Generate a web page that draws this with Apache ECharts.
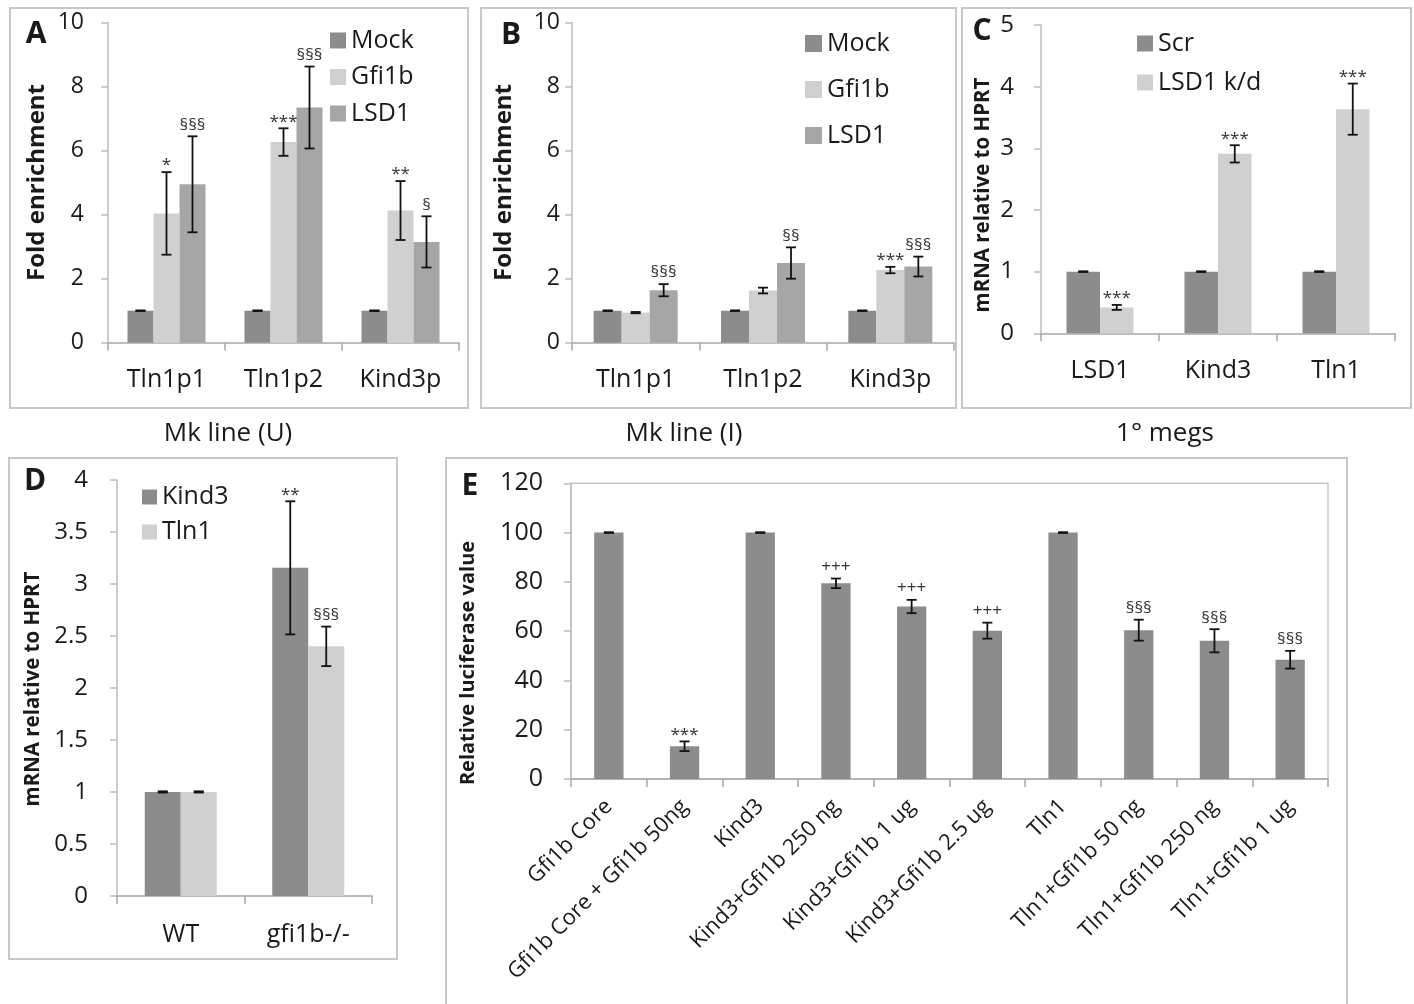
<!DOCTYPE html>
<html><head><meta charset="utf-8">
<script src="https://cdn.jsdelivr.net/npm/echarts@6/dist/echarts.min.js"></script>
<style>html,body{margin:0;padding:0;background:#fff}#c{width:1414px;height:1004px}</style>
</head><body><div id="c"></div>
<script>
// ---------- Panel A : Mk line (U) ----------
const catsA = ['Tln1p1', 'Tln1p2', 'Kind3p'];
const aMock = [1, 1, 1];
const aMockErr = [0.01, 0.01, 0.01];
const aGfi = [4.04, 6.27, 4.13];
const aGfiErr = [1.29, 0.43, 0.92];
const aGfiSig = ['*', '***', '**'];
const aLsd = [4.95, 7.35, 3.15];
const aLsdErr = [1.5, 1.28, 0.8];
const aLsdSig = ['§§§', '§§§', '§'];
// ---------- Panel B : Mk line (I) ----------
const catsB = ['Tln1p1', 'Tln1p2', 'Kind3p'];
const bMock = [1, 1, 1];
const bMockErr = [0.01, 0.01, 0.01];
const bGfi = [0.94, 1.63, 2.27];
const bGfiErr = [0.02, 0.09, 0.1];
const bGfiSig = ['', '', '***'];
const bLsd = [1.64, 2.49, 2.38];
const bLsdErr = [0.19, 0.49, 0.31];
const bLsdSig = ['§§§', '§§', '§§§'];
// ---------- Panel C : 1° megs ----------
const catsC = ['LSD1', 'Kind3', 'Tln1'];
const cScr = [1, 1, 1];
const cScrErr = [0.006, 0.006, 0.006];
const cKd = [0.42, 2.91, 3.635];
const cKdErr = [0.04, 0.14, 0.415];
const cKdSig = ['***', '***', '***'];
// ---------- Panel D ----------
const catsD = ['WT', 'gfi1b-/-'];
const dKind3 = [1, 3.155];
const dKind3Err = [0.006, 0.64];
const dKind3Sig = ['', '**'];
const dTln1 = [1, 2.4];
const dTln1Err = [0.006, 0.19];
const dTln1Sig = ['', '§§§'];
// ---------- Panel E ----------
const catsE = ['Gfi1b Core', 'Gfi1b Core + Gfi1b 50ng', 'Kind3', 'Kind3+Gfi1b 250 ng', 'Kind3+Gfi1b 1 ug',
  'Kind3+Gfi1b 2.5 ug', 'Tln1', 'Tln1+Gfi1b 50 ng', 'Tln1+Gfi1b 250 ng', 'Tln1+Gfi1b 1 ug'];
const eVal = [100, 13.3, 100, 79.4, 70, 60.2, 100, 60.4, 56.1, 48.4];
const eErr = [0.15, 1.95, 0.15, 1.95, 2.7, 3.25, 0.15, 4.25, 4.7, 3.6];
const eSig = ['', '***', '', '+++', '+++', '+++', '', '§§§', '§§§', '§§§'];

const DARK = '#8c8c8c', LIGHT = '#d0d0d0', MID = '#a6a6a6';
const FONT = '"Open Sans"';
const TXT = '#1a1a1a';
const AX = '#a8a8a8';

function xAx(gi, data, fs, margin, rotate) {
  return {
    type: 'category', gridIndex: gi, data: data,
    axisLine: { show: true, lineStyle: { color: AX, width: 1.5 } },
    axisTick: { show: true, length: 8, lineStyle: { color: AX, width: 1.5 } },
    axisLabel: { fontSize: fs, fontFamily: FONT, color: TXT, margin: margin, interval: 0, rotate: rotate || 0 },
    splitLine: { show: false }
  };
}
function yAx(gi, max, interval, fs, margin) {
  return {
    type: 'value', gridIndex: gi, min: 0, max: max, interval: interval,
    axisLine: { show: true, lineStyle: { color: '#bdbdbd', width: 1.5 } },
    axisTick: { show: true, length: 7, lineStyle: { color: '#bdbdbd', width: 1.5 } },
    axisLabel: { fontSize: fs, fontFamily: FONT, color: TXT, margin: margin },
    splitLine: { show: false }
  };
}
function bar(gi, name, vals, color, w) {
  return {
    type: 'bar', name: name, xAxisIndex: gi, yAxisIndex: gi, data: vals,
    barWidth: w, barGap: '0%', itemStyle: { color: color }, silent: true
  };
}
function errSeries(gi, vals, errs, sigs, pos, n, barW, fs) {
  return {
    type: 'custom', xAxisIndex: gi, yAxisIndex: gi, z: 5, silent: true,
    data: vals.map((v, i) => [i, v, errs[i]]),
    encode: { x: 0, y: 1 },
    renderItem: function (params, api) {
      const ci = api.value(0), v = api.value(1), e = api.value(2);
      const p1 = api.coord([ci, v + e]), p0 = api.coord([ci, v - e]);
      const x = p1[0] + (pos - (n - 1) / 2) * barW;
      const s = { stroke: '#111', lineWidth: 1.8 };
      const ch = [
        { type: 'line', shape: { x1: x, y1: p1[1], x2: x, y2: p0[1] }, style: s },
        { type: 'line', shape: { x1: x - 5, y1: p1[1], x2: x + 5, y2: p1[1] }, style: s },
        { type: 'line', shape: { x1: x - 5, y1: p0[1], x2: x + 5, y2: p0[1] }, style: s }
      ];
      const t = sigs[params.dataIndex];
      const dy = t.indexOf('*') >= 0 ? 2 : -3;
      if (t) ch.push({ type: 'text', style: { text: t, x: x, y: p1[1] + dy, align: 'center', verticalAlign: 'bottom',
        textAlign: 'center', textVerticalAlign: 'bottom', font: fs + 'px ' + FONT, fill: '#333' } });
      return { type: 'group', children: ch };
    }
  };
}
function legend(names, left, top, icon, fs, gap) {
  return {
    data: names, orient: 'vertical', left: left, top: top, itemWidth: icon, itemHeight: icon,
    itemGap: gap, icon: 'rect', selectedMode: false, padding: 0,
    textStyle: { fontSize: fs, lineHeight: fs, fontFamily: FONT, color: TXT }
  };
}
function box(x, y, w, h) {
  return { type: 'rect', shape: { x: x, y: y, width: w, height: h }, style: { fill: 'none', stroke: '#c8c8c8', lineWidth: 2 }, silent: true };
}
function txt(t, x, y, font, rot) {
  return { type: 'text', x: x, y: y, rotation: rot || 0, silent: true,
    style: { text: t, font: font, fill: TXT, align: 'center', verticalAlign: 'middle', textAlign: 'center', textVerticalAlign: 'middle' } };
}

const chart = echarts.init(document.getElementById('c'), null, { renderer: 'canvas' });
chart.setOption({
  animation: false,
  backgroundColor: '#fff',
  grid: [
    { left: 108, top: 22.7, width: 351, height: 320 },
    { left: 572, top: 22.7, width: 382, height: 320 },
    { left: 1041, top: 25, width: 354, height: 308.3 },
    { left: 117, top: 480, width: 255, height: 415.9 },
    { left: 571, top: 483.3, width: 757, height: 295.7, show: true, borderColor: '#c8c8c8', borderWidth: 1.5 }
  ],
  xAxis: [
    xAx(0, catsA, 25, 25), xAx(1, catsB, 25, 25), xAx(2, catsC, 25, 25), xAx(3, catsD, 25, 26),
    xAx(4, catsE, 22, 24, 45)
  ],
  yAxis: [
    yAx(0, 10, 2, 23, 24), yAx(1, 10, 2, 23, 12), yAx(2, 5, 1, 24, 27), yAx(3, 4, 0.5, 24, 29), yAx(4, 120, 20, 25, 28)
  ],
  legend: [
    legend(['Mock', 'Gfi1b', 'LSD1'], 330, 28, 16, 25, 11.5),
    legend(['Mock', 'Gfi1b', 'LSD1'], 805, 31, 17, 25, 21),
    legend(['Scr', 'LSD1 k/d'], 1137, 31, 16, 25, 14),
    legend(['Kind3', 'Tln1'], 142, 484.5, 15, 25, 10)
  ],
  series: [
    bar(0, 'Mock', aMock, DARK, 26), bar(0, 'Gfi1b', aGfi, LIGHT, 26), bar(0, 'LSD1', aLsd, MID, 26),
    errSeries(0, aMock, aMockErr, ['', '', ''], 0, 3, 26, 17),
    errSeries(0, aGfi, aGfiErr, aGfiSig, 1, 3, 26, 17),
    errSeries(0, aLsd, aLsdErr, aLsdSig, 2, 3, 26, 17),
    bar(1, 'Mock', bMock, DARK, 28), bar(1, 'Gfi1b', bGfi, LIGHT, 28), bar(1, 'LSD1', bLsd, MID, 28),
    errSeries(1, bMock, bMockErr, ['', '', ''], 0, 3, 28, 17),
    errSeries(1, bGfi, bGfiErr, bGfiSig, 1, 3, 28, 17),
    errSeries(1, bLsd, bLsdErr, bLsdSig, 2, 3, 28, 17),
    bar(2, 'Scr', cScr, DARK, 33.5), bar(2, 'LSD1 k/d', cKd, LIGHT, 33.5),
    errSeries(2, cScr, cScrErr, ['', '', ''], 0, 2, 33.5, 17),
    errSeries(2, cKd, cKdErr, cKdSig, 1, 2, 33.5, 17),
    bar(3, 'Kind3', dKind3, DARK, 36), bar(3, 'Tln1', dTln1, LIGHT, 36),
    errSeries(3, dKind3, dKind3Err, dKind3Sig, 0, 2, 36, 17),
    errSeries(3, dTln1, dTln1Err, dTln1Sig, 1, 2, 36, 17),
    bar(4, 'Relative luciferase value', eVal, DARK, 29.3),
    errSeries(4, eVal, eErr, eSig, 0, 1, 29.3, 17)
  ],
  graphic: [
    box(10, 8, 458, 400), box(481, 8, 475, 400), box(962, 8, 449, 400), box(9, 458, 388, 501), box(446, 458, 901, 560),
    txt('A', 36, 34, 'bold 30px "Open Sans"'),
    txt('B', 511, 35, 'bold 30px "Open Sans"'),
    txt('C', 982, 31, 'bold 30px "Open Sans"'),
    txt('D', 35, 481, 'bold 30px "Open Sans"'),
    txt('E', 470, 486, 'bold 30px "Open Sans"'),
    txt('Fold enrichment', 37, 182.5, 'bold 24px "Open Sans"', Math.PI / 2),
    txt('Fold enrichment', 504, 182.5, 'bold 24px "Open Sans"', Math.PI / 2),
    txt('mRNA relative to HPRT', 983, 195, 'bold 20.5px "Open Sans"', Math.PI / 2),
    txt('mRNA relative to HPRT', 33, 689, 'bold 20.5px "Open Sans"', Math.PI / 2),
    txt('Relative luciferase value', 468, 663, 'bold 20px "Open Sans"', Math.PI / 2),
    txt('Mk line (U)', 228, 434, '26px ' + FONT),
    txt('Mk line (I)', 684, 434, '26px ' + FONT),
    txt('1° megs', 1165, 434, '26px ' + FONT)
  ]
});
</script>
</body></html>
